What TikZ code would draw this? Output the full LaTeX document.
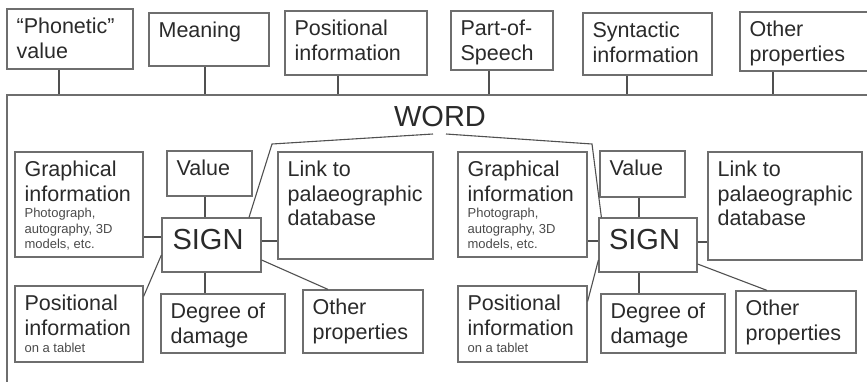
\documentclass[tikz,border=0pt]{standalone}
\usepackage{fontspec}
\setmainfont{Liberation Sans}
\usetikzlibrary{fit}
\definecolor{boxc}{HTML}{6E6E6E}
\definecolor{linec}{HTML}{505050}
\definecolor{txtc}{HTML}{2A2A2A}
\definecolor{smallc}{HTML}{4A4A4A}
\tikzset{
 box/.style={draw=boxc, line width=1.2pt, inner sep=0pt},
 big/.style={anchor=north west, align=left, inner sep=0pt, text=txtc, font=\fontsize{21.5}{24.5}\selectfont},
 small/.style={anchor=north west, align=left, inner sep=0pt, text=smallc, font=\fontsize{13}{15.5}\selectfont},
 huge/.style={inner sep=0pt, text=txtc, font=\fontsize{29}{29}\selectfont},
 conn/.style={draw=linec, line width=1.1pt},
}
\newcommand\mkbox[6]{\node[box, fit={(#2,#3) (#4,#5)}] (#1) {};
 \node[big] (#1t) at ([xshift=10pt,yshift=-9.5pt]#1.north west) {#6};}
\begin{document}
\begin{tikzpicture}[x=1pt,y=-1pt]
\useasboundingbox (0,0) rectangle (867,381);
% word frame
\node[box, fit={(7,95) (880,400)}] (word) {};
\node[huge] (wordt) at (440,116.5) {WORD};
% top boxes
\mkbox{ph}{7}{9}{133}{69}{“Phonetic”\\value}
\mkbox{mn}{149}{13}{269}{66}{Meaning}
\mkbox{po}{285}{11}{427}{75}{Positional\\information}
\mkbox{ps}{451}{11}{553}{70}{Part-of-\\Speech}
\mkbox{sy}{583}{13}{712}{75}{Syntactic\\information}
\mkbox{ot}{740}{12}{875}{71}{Other\\properties}
\draw[conn] ([xshift=-11pt]ph.south) -- ([xshift=-11pt]ph.south |- word.north);
\draw[conn] ([xshift=-4pt]mn.south) -- ([xshift=-4pt]mn.south |- word.north);
\draw[conn] ([xshift=-18pt]po.south) -- ([xshift=-18pt]po.south |- word.north);
\draw[conn] ([xshift=-13pt]ps.south) -- ([xshift=-13pt]ps.south |- word.north);
\draw[conn] ([xshift=-20.5pt]sy.south) -- ([xshift=-20.5pt]sy.south |- word.north);
\draw[conn] ([xshift=-34.5pt]ot.south) -- ([xshift=-34.5pt]ot.south |- word.north);
% left group
\mkbox{gL}{15}{152}{143}{257}{Graphical\\information}
\node[small] (gLs) at ([xshift=10pt,yshift=-56.5pt]gL.north west) {Photograph,\\autography, 3D\\models, etc.};
\mkbox{vL}{167}{151}{252}{196}{Value}
\mkbox{lL}{278}{152}{433}{259}{Link to\\palaeographic\\database}
\node[box, fit={(162,218) (261,272)}] (sL) {};
\node[huge] (sLt) at ([xshift=-3.5pt,yshift=5pt]sL.center) {SIGN};
\mkbox{pL}{15}{286}{143}{362}{Positional\\information}
\node[small] (pLs) at ([xshift=10pt,yshift=-57pt]pL.north west) {on a tablet};
\mkbox{dL}{161}{294}{285}{353}{Degree of\\damage}
\mkbox{oL}{303}{290}{423}{353}{Other\\properties}
\draw[conn] ([xshift=-4.5pt]vL.south) -- ([xshift=-4.5pt]vL.south |- sL.north);
\draw[conn] ([yshift=8pt]sL.west) -- ([yshift=8pt]sL.west -| gL.east);
\draw[conn] ([yshift=4pt]sL.east) -- ([yshift=4pt]sL.east -| lL.west);
\draw[conn] ([xshift=-6.5pt]sL.south) -- ([xshift=-6.5pt]sL.south |- dL.north);
\draw[conn] ([yshift=-10pt]sL.west) -- ([yshift=-11pt]pL.north east);
\draw[conn] ([yshift=-15pt]sL.east) -- ([xshift=-35pt]oL.north);
% right group
\mkbox{gR}{458}{152}{587}{257}{Graphical\\information}
\node[small] (gRs) at ([xshift=10pt,yshift=-56.5pt]gR.north west) {Photograph,\\autography, 3D\\models, etc.};
\mkbox{vR}{600}{151}{685}{197}{Value}
\mkbox{lR}{708}{152}{862}{260}{Link to\\palaeographic\\database}
\node[box, fit={(599,218) (697,272)}] (sR) {};
\node[huge] (sRt) at ([xshift=-3.5pt,yshift=5.5pt]sR.center) {SIGN};
\mkbox{pR}{458}{286}{587}{362}{Positional\\information}
\node[small] (pRs) at ([xshift=10pt,yshift=-57pt]pR.north west) {on a tablet};
\mkbox{dR}{601}{294}{725}{353}{Degree of\\damage}
\mkbox{oR}{736}{291}{856}{353}{Other\\properties}
\draw[conn] ([xshift=-3.5pt]vR.south) -- ([xshift=-3.5pt]vR.south |- sR.north);
\draw[conn] ([yshift=4pt]sR.west) -- ([yshift=4pt]sR.west -| gR.east);
\draw[conn] ([yshift=3pt]sR.east) -- ([yshift=3pt]sR.east -| lR.west);
\draw[conn] ([xshift=-9pt]sR.south) -- ([xshift=-9pt]sR.south |- dR.north);
\draw[conn] ([yshift=-15pt]sR.west) -- ([yshift=-16pt]pR.north east);
\draw[conn] ([yshift=-19pt]sR.east) -- ([xshift=-29pt]oR.north);
% WORD to signs
\coordinate (wa) at (433,134);
\coordinate (wb) at (272,144);
\coordinate (wc) at (446,134);
\coordinate (wd) at (592,144);
\draw[conn] (wa) -- (wb) -- ([xshift=37.5pt]sL.north);
\draw[conn] (wc) -- (wd) -- ([xshift=3pt]sR.north west);
\end{tikzpicture}
\end{document}
